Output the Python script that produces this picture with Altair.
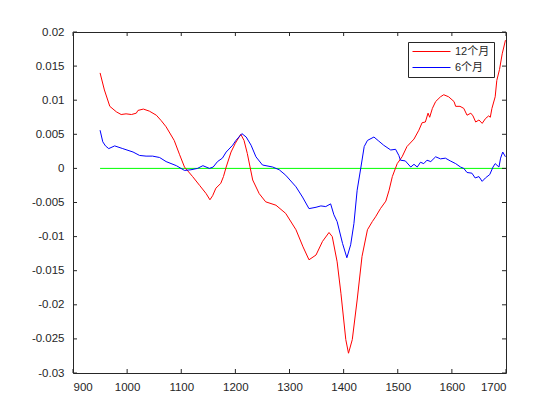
import altair as alt
import pandas as pd

# ---- data ----
x_ticks = [900, 1000, 1100, 1200, 1300, 1400, 1500, 1600, 1700]
y_ticks = [-0.03, -0.025, -0.02, -0.015, -0.01, -0.005, 0, 0.005, 0.01, 0.015, 0.02]
series_names = ["12个月", "6个月"]
series_colors = ["#ff0000", "#0000ff"]

red_x = [950, 958, 968, 980, 989, 998, 1008, 1017, 1020, 1030, 1041, 1054, 1063, 1072,
         1087, 1097, 1106, 1121, 1134, 1146, 1153, 1158, 1164, 1173, 1178, 1183, 1192,
         1200, 1210, 1216, 1222, 1232, 1244, 1256, 1275, 1293, 1312, 1325, 1336, 1349,
         1361, 1373, 1379, 1388, 1395, 1404, 1409, 1416, 1425, 1434, 1444, 1453, 1459,
         1468, 1478, 1484, 1490, 1499, 1508, 1517, 1530, 1539, 1545, 1551, 1556, 1559,
         1564, 1570, 1579, 1585, 1594, 1604, 1607, 1615, 1622, 1628, 1635, 1639, 1644,
         1650, 1656, 1662, 1668, 1671, 1674, 1680, 1683, 1688, 1693, 1699]
red_y = [0.0140, 0.0115, 0.0091, 0.0083, 0.0079, 0.0080, 0.0079, 0.0081, 0.0085, 0.0087,
         0.0084, 0.0078, 0.0070, 0.0061, 0.0041, 0.0020, 0.0002, -0.0012, -0.0025, -0.0037,
         -0.0046, -0.0040, -0.0029, -0.0022, -0.0012, 0.0002, 0.0024, 0.0037, 0.0050,
         0.0041, 0.0022, -0.0017, -0.0037, -0.0049, -0.0054, -0.0066, -0.0090, -0.0115,
         -0.0134, -0.0127, -0.0107, -0.0094, -0.0100, -0.0137, -0.0183, -0.0251, -0.0271,
         -0.0251, -0.0193, -0.0129, -0.0090, -0.0078, -0.0071, -0.0059, -0.0048, -0.0032,
         -0.0012, 0.0007, 0.0017, 0.0032, 0.0043, 0.0056, 0.0067, 0.0068, 0.0081, 0.0075,
         0.0088, 0.0098, 0.0105, 0.0108, 0.0105, 0.0098, 0.0091, 0.0091, 0.0088, 0.0078,
         0.0081, 0.0077, 0.0068, 0.0071, 0.0066, 0.0073, 0.0077, 0.0075, 0.0088, 0.0105,
         0.0129, 0.0145, 0.0168, 0.0188]

blue_x = [950, 955, 960, 966, 977, 992, 1011, 1023, 1035, 1047, 1060, 1072, 1091, 1106,
          1118, 1130, 1140, 1152, 1159, 1167, 1176, 1183, 1195, 1201, 1212, 1220, 1229,
          1238, 1250, 1269, 1281, 1293, 1312, 1324, 1336, 1349, 1358, 1367, 1376, 1382,
          1388, 1398, 1406, 1413, 1419, 1425, 1432, 1438, 1444, 1456, 1465, 1474, 1487,
          1496, 1502, 1505, 1514, 1524, 1530, 1536, 1542, 1548, 1554, 1561, 1570, 1579,
          1588, 1597, 1607, 1616, 1622, 1628, 1637, 1643, 1650, 1656, 1662, 1670, 1676,
          1680, 1687, 1690, 1694, 1699]
blue_y = [0.0056, 0.0039, 0.0033, 0.0029, 0.0033, 0.0029, 0.0024, 0.0019, 0.0018, 0.0018,
          0.0016, 0.0010, 0.0004, -0.0003, -0.0002, 0.0000, 0.0004, 0.0000, 0.0002, 0.0010,
          0.0015, 0.0024, 0.0034, 0.0041, 0.0051, 0.0046, 0.0034, 0.0017, 0.0005, 0.0002,
          -0.0002, -0.0010, -0.0027, -0.0042, -0.0059, -0.0057, -0.0055, -0.0056, -0.0052,
          -0.0068, -0.0078, -0.0110, -0.0131, -0.0112, -0.0081, -0.0032, 0.0002, 0.0032,
          0.0041, 0.0046, 0.0040, 0.0034, 0.0027, 0.0028, 0.0019, 0.0012, 0.0011, 0.0002,
          0.0006, 0.0002, 0.0009, 0.0007, 0.0012, 0.0010, 0.0017, 0.0014, 0.0015, 0.0011,
          0.0007, 0.0002, 0.0000, -0.0006, -0.0007, -0.0014, -0.0012, -0.0019, -0.0014,
          -0.0009, 0.0002, 0.0007, 0.0002, 0.0015, 0.0024, 0.0017]

zero_x = [950, 1700]
zero_y = [0, 0]

# ---- build tables ----
lines_df = pd.concat([
    pd.DataFrame({"x": red_x, "y": red_y, "series": series_names[0], "order": range(len(red_x))}),
    pd.DataFrame({"x": blue_x, "y": blue_y, "series": series_names[1], "order": range(len(blue_x))}),
])
zero_df = pd.DataFrame({"x": zero_x, "y": zero_y})
xt_df = pd.DataFrame({"x": x_ticks})
yt_df = pd.DataFrame({"y": y_ticks})

W, H = 433, 341
FONT = "Liberation Sans, Arial, Noto Sans CJK SC"
AXC = "#262626"

xscale = alt.Scale(domain=[900, 1700], nice=False, zero=False)
yscale = alt.Scale(domain=[-0.03, 0.02], nice=False, zero=False)
xaxis = alt.Axis(values=x_ticks, title=None, ticks=False, domain=False, grid=False,
                 labelFontSize=11.5, labelFont=FONT, labelColor=AXC, labelPadding=8,
                 labelExpr="'' + datum.value")
yaxis = alt.Axis(values=y_ticks, title=None, ticks=False, domain=False, grid=False,
                 labelFontSize=11.5, labelFont=FONT, labelColor=AXC, labelPadding=9,
                 labelExpr="'' + datum.value")

X = alt.X("x:Q", scale=xscale, axis=xaxis)
Y = alt.Y("y:Q", scale=yscale, axis=yaxis)

zero_line = alt.Chart(zero_df).mark_line(color="#00ff00", strokeWidth=1).encode(x=X, y=Y)

series = alt.Chart(lines_df).mark_line(strokeWidth=1).encode(
    x=X, y=Y,
    order="order:Q",
    color=alt.Color("series:N",
                    scale=alt.Scale(domain=series_names, range=series_colors),
                    legend=alt.Legend(orient="none", legendX=335, legendY=10, title=None,
                                      strokeColor=AXC, fillColor="white", padding=4,
                                      symbolType="M-3.8,0H3.8", symbolSize=100,
                                      symbolStrokeWidth=1, symbolOffset=14,
                                      labelOffset=18, labelFontSize=11, labelFont=FONT,
                                      labelColor=AXC, rowPadding=4)),
)

tick_len = 4
xt_bottom = alt.Chart(xt_df).mark_rule(color=AXC, strokeWidth=1).encode(
    x=X, y=alt.value(H - tick_len), y2=alt.value(H))
xt_top = alt.Chart(xt_df).mark_rule(color=AXC, strokeWidth=1).encode(
    x=X, y=alt.value(0), y2=alt.value(tick_len))
yt_left = alt.Chart(yt_df).mark_rule(color=AXC, strokeWidth=1).encode(
    y=Y, x=alt.value(0), x2=alt.value(tick_len))
yt_right = alt.Chart(yt_df).mark_rule(color=AXC, strokeWidth=1).encode(
    y=Y, x=alt.value(W - tick_len), x2=alt.value(W))

chart = alt.layer(zero_line, series, xt_bottom, xt_top, yt_left, yt_right).properties(
    width=W, height=H,
    autosize=alt.AutoSizeParams(type="none"),
    padding={"left": 73, "top": 32, "right": 54, "bottom": 47},
    background="white",
).configure_view(stroke=AXC, strokeWidth=1)

chart.save("out.html", embed_options={"renderer": "svg", "actions": False})
